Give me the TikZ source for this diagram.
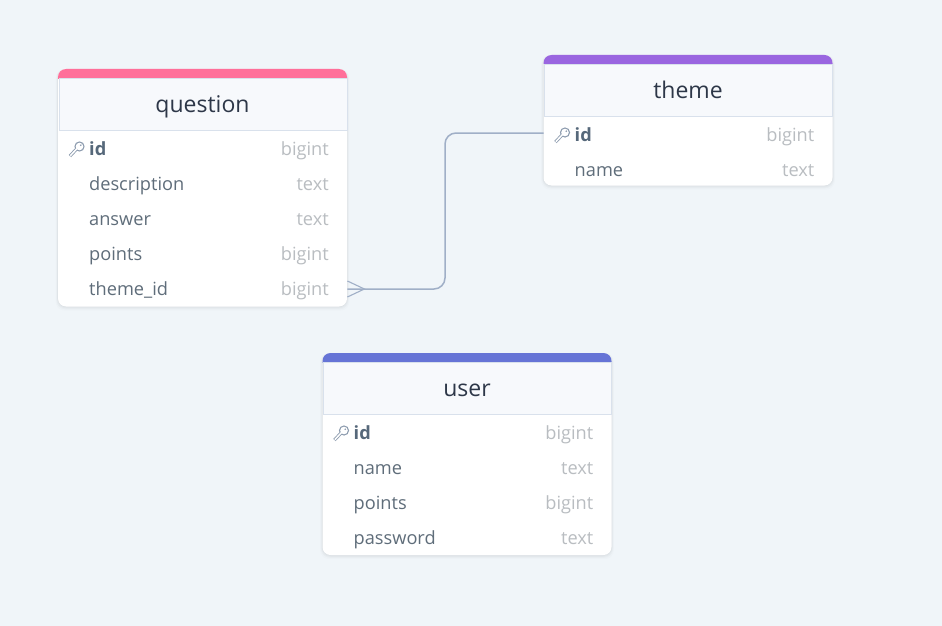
\documentclass[tikz,border=0pt]{standalone}
\usepackage{fontspec}
\setmainfont{Open Sans}
\definecolor{bgc}{HTML}{F0F5F9}
\definecolor{headc}{HTML}{F7F9FC}
\definecolor{linec}{HTML}{D9E1EC}
\definecolor{titlec}{HTML}{2D3748}
\definecolor{namec}{HTML}{5F6D7A}
\definecolor{idc}{HTML}{56687A}
\definecolor{typec}{HTML}{B9BDC1}
\definecolor{keyc}{HTML}{8C9BAE}
\definecolor{connc}{HTML}{A0AFC7}
\definecolor{pinkc}{HTML}{FF6F9A}
\definecolor{purplec}{HTML}{9A66E0}
\definecolor{bluec}{HTML}{6674D6}
\tikzset{
  x=1pt,y=-1pt,
  card/.style={draw=none,fill=white,rounded corners=8pt},
  stripe/.style={rounded corners=8pt},
  headbox/.style={draw=linec,line width=1.3pt,fill=headc,anchor=north west,inner sep=0pt,minimum width=288pt,minimum height=51.5pt},
  rowbox/.style={draw=none,anchor=west,inner sep=0pt,minimum width=289pt,minimum height=35pt},
  titletext/.style={text=titlec,font=\fontsize{23}{26}\selectfont,anchor=base,inner sep=0pt},
  nametext/.style={text=namec,font=\fontsize{18.2}{22}\selectfont,anchor=base west,inner sep=0pt},
  idtext/.style={text=idc,font=\bfseries\fontsize{18.2}{22}\selectfont,anchor=base west,inner sep=0pt},
  typetext/.style={text=typec,font=\fontsize{18.2}{22}\selectfont,anchor=base east,inner sep=0pt},
  conn/.style={draw=connc,line width=1.5pt},
  crow/.style={draw=connc,line width=1.1pt},
}
% #1 name, #2 left, #3 top, #4 colour, #5 title, #6 bottom
\newcommand{\ercard}[6]{%
  \foreach \s/\o in {6/.012,4/.018,2.5/.025,1/.03}{
    \fill[black,opacity=\o,rounded corners=9pt] (#2-\s*.4,#3) rectangle (#2+289+\s*.4,#6+\s*.7);
  }
  \fill[card] (#2,#3) rectangle (#2+289,#6);
  \begin{scope}
    \clip (#2,#3) rectangle (#2+289,#3+9);
    \fill[#4,stripe] (#2,#3) rectangle (#2+289,#3+30);
  \end{scope}
  \node[headbox] (#1) at (#2+.5,#3+9) {};
  \node[titletext] (#1-title) at (#2+144.5,#3+43) {#5};
}
% #1 row node name, #2 left, #3 row centre y, #4 field, #5 type
\newcommand{\errow}[5]{%
  \node[rowbox] (#1) at (#2,#3) {};
  \node[nametext] (#1-name) at (#2+31,#3+6.4) {#4};
  \node[typetext] (#1-type) at (#2+271,#3+6.4) {#5};
}
% #1 row node name, #2 left, #3 text centre y, #4 type
\newcommand{\eridrow}[4]{%
  \node[rowbox] (#1) at (#2,#3) {};
  \node[idtext] (#1-name) at (#2+31,#3+6.4) {id};
  \node[typetext] (#1-type) at (#2+271,#3+6.4) {#4};
  \draw[keyc,line width=3.2pt] (#2+12,#3+7) -- (#2+19,#3-.5);
  \fill[keyc] (#2+21.5,#3-2.5) circle (5.1);
  \draw[white,line width=1.5pt] (#2+12.3,#3+6.7) -- (#2+19,#3-.5);
  \fill[white] (#2+21.5,#3-2.5) circle (3.8);
  \fill[keyc] (#2+22.8,#3-3.8) circle (.9);
}
\begin{document}
\begin{tikzpicture}
\fill[bgc] (0,0) rectangle (942,626);
\useasboundingbox (0,0) rectangle (942,626);

\ercard{q}{58}{69}{pinkc}{question}{306.5}
\eridrow{qid}{58}{149}{bigint}
\errow{qdesc}{58}{184}{description}{text}
\errow{qans}{58}{219}{answer}{text}
\errow{qpts}{58}{254}{points}{bigint}
\errow{qtheme}{58}{289}{theme\_id}{bigint}

\ercard{t}{543.5}{55}{purplec}{theme}{185.5}
\eridrow{tid}{543.5}{135}{bigint}
\errow{tname}{543.5}{170}{name}{text}

\ercard{u}{322.5}{353}{bluec}{user}{555}
\eridrow{uid}{322.5}{433}{bigint}
\errow{uname}{322.5}{468}{name}{text}
\errow{upts}{322.5}{503}{points}{bigint}
\errow{upass}{322.5}{538}{password}{text}

\coordinate (tport) at ([yshift=2pt]tid.west);
\coordinate (footup) at ([yshift=8pt]qtheme.east);
\coordinate (footdn) at ([yshift=-8pt]qtheme.east);
\coordinate (foottip) at ([xshift=17pt]qtheme.east);
\coordinate (bendx) at (445,0);
\draw[conn,rounded corners=11pt] (qtheme.east) -- (qtheme.east -| bendx) -- (tport -| bendx) -- (tport);
\draw[crow] (footup) -- (foottip) -- (footdn);
\end{tikzpicture}
\end{document}
